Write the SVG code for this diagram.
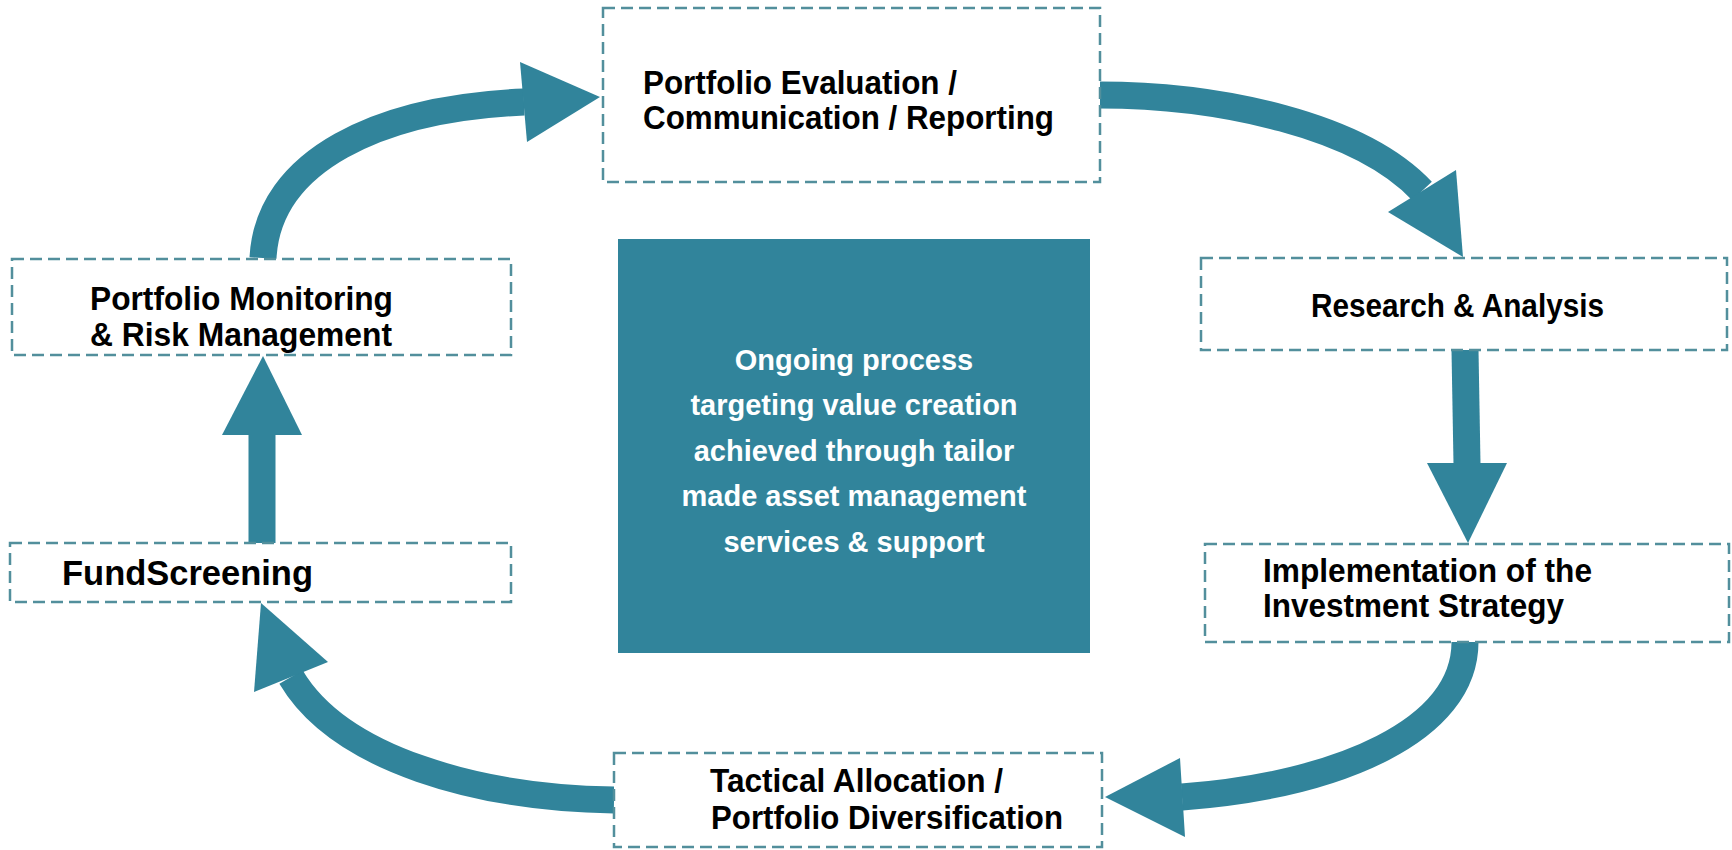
<svg xmlns="http://www.w3.org/2000/svg" width="1732" height="850" viewBox="0 0 1732 850">
<style>
.box{fill:#ffffff;stroke:#528f9c;stroke-width:2.5;stroke-dasharray:12 6}
.lbl{font-family:"Liberation Sans",Arial,Helvetica,sans-serif;font-weight:bold;font-size:32.5px;fill:#000000}
.ctr{font-family:"Liberation Sans",Arial,Helvetica,sans-serif;font-weight:bold;font-size:29px;fill:#ffffff;text-anchor:middle}
.shaft{fill:none;stroke:#31849b;stroke-width:27;stroke-linecap:butt}
.head{fill:#31849b;stroke:none}
</style>
<rect x="0" y="0" width="1732" height="850" fill="#ffffff"/>
<g id="connectors">
  <path class="shaft" d="M263,258 C268,160 380,108 524,102"/>
  <polygon class="head" points="520,62 600,97 527,142"/>
  <path class="shaft" d="M1099,95 C1220,95 1360,125 1422,191"/>
  <polygon class="head" points="1456,170 1463,257 1388,212"/>
  <path class="shaft" d="M1465,350 L1467,464"/>
  <polygon class="head" points="1427,463 1507,463 1468,543"/>
  <path class="shaft" d="M1465,642 C1465,730 1340,785 1182,797"/>
  <polygon class="head" points="1180,758 1105,797 1185,837"/>
  <path class="shaft" d="M614,800 C480,798 340,760 291,677"/>
  <polygon class="head" points="254,692 261,603 328,662"/>
  <path class="shaft" d="M262,543 L262,434"/>
  <polygon class="head" points="222,435 302,435 263,356"/>
</g>
<g id="node-center">
  <rect x="618" y="239" width="472" height="414" fill="#31849b"/>
  <text class="ctr" x="854" y="370">Ongoing process</text>
  <text class="ctr" x="854" y="415">targeting value creation</text>
  <text class="ctr" x="854" y="461">achieved through tailor</text>
  <text class="ctr" x="854" y="506">made asset management</text>
  <text class="ctr" x="854" y="552">services &amp; support</text>
</g>
<g id="node-evaluation">
  <rect class="box" x="603" y="8" width="497" height="174"/>
  <text class="lbl" x="643" y="94" textLength="314" lengthAdjust="spacingAndGlyphs">Portfolio Evaluation /</text>
  <text class="lbl" x="643" y="129" textLength="411" lengthAdjust="spacingAndGlyphs">Communication / Reporting</text>
</g>
<g id="node-research">
  <rect class="box" x="1201" y="258" width="526" height="92"/>
  <text class="lbl" x="1311" y="317" textLength="293" lengthAdjust="spacingAndGlyphs">Research &amp; Analysis</text>
</g>
<g id="node-implementation">
  <rect class="box" x="1205" y="544" width="524" height="98"/>
  <text class="lbl" x="1263" y="582" textLength="329" lengthAdjust="spacingAndGlyphs">Implementation of the</text>
  <text class="lbl" x="1263" y="617" textLength="301" lengthAdjust="spacingAndGlyphs">Investment Strategy</text>
</g>
<g id="node-tactical">
  <rect class="box" x="614" y="753" width="488" height="94"/>
  <text class="lbl" x="710" y="792" textLength="293" lengthAdjust="spacingAndGlyphs">Tactical Allocation /</text>
  <text class="lbl" x="711" y="829" textLength="352" lengthAdjust="spacingAndGlyphs">Portfolio Diversification</text>
</g>
<g id="node-fundscreening">
  <rect class="box" x="10" y="543" width="501" height="59"/>
  <text class="lbl" x="62" y="585" style="font-size:35px" textLength="251" lengthAdjust="spacingAndGlyphs">FundScreening</text>
</g>
<g id="node-monitoring">
  <rect class="box" x="12" y="259" width="499" height="96"/>
  <text class="lbl" x="90" y="310" textLength="303" lengthAdjust="spacingAndGlyphs">Portfolio Monitoring</text>
  <text class="lbl" x="90" y="346" textLength="302" lengthAdjust="spacingAndGlyphs">&amp; Risk Management</text>
</g>
</svg>
